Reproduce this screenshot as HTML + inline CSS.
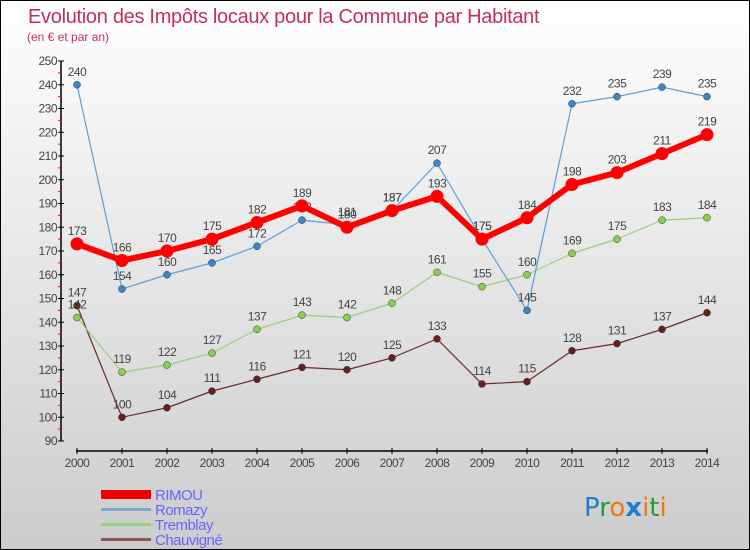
<!DOCTYPE html>
<html><head><meta charset="utf-8"><style>
body{margin:0}
#c{width:750px;height:550px;position:relative;box-sizing:border-box;border:1px solid #000;background:linear-gradient(#fff,#ccc);font-family:"Liberation Sans",sans-serif;overflow:hidden}
</style></head><body>
<div id="c">
<svg id="s" width="750" height="550" style="position:absolute;left:0;top:0" font-family="Liberation Sans, sans-serif">
<text x="27" y="22" font-size="20" fill="#c0325a" letter-spacing="-0.3">Evolution des Impôts locaux pour la Commune par Habitant</text>
<text x="26" y="40" font-size="12" fill="#c0325a">(en € et par an)</text>
<g id="ax"></g><g id="ser"></g>
<g>
<rect x="100" y="489" width="50" height="9" fill="#e00"/>
<text x="154" y="499" font-size="15" fill="#6666ff" letter-spacing="-0.5">RIMOU</text>
<rect x="100" y="507" width="50" height="3" fill="#7fa6c8"/>
<text x="154" y="514" font-size="15" fill="#6666ff" letter-spacing="-0.5">Romazy</text>
<rect x="100" y="522" width="50" height="3" fill="#99d07a"/>
<text x="154" y="529" font-size="15" fill="#6666ff" letter-spacing="-0.5">Tremblay</text>
<rect x="100" y="537" width="50" height="3" fill="#8a5a5a"/>
<text x="154" y="544" font-size="15" fill="#6666ff" letter-spacing="-0.5">Chauvigné</text>
</g>
<text x="583" y="515" font-size="26" font-family="DejaVu Sans"><tspan fill="#1a7fd0">P</tspan><tspan fill="#2a9a3a">r</tspan><tspan fill="#f07a10">o</tspan><tspan fill="#1a7fd0" font-weight="bold">x</tspan><tspan fill="#f07a10">i</tspan><tspan fill="#2a9a3a">t</tspan><tspan fill="#f07a10">i</tspan></text>
</svg>
</div>
<script>
const years=[2000,2001,2002,2003,2004,2005,2006,2007,2008,2009,2010,2011,2012,2013,2014];
const rimou=[173,166,170,175,182,189,180,187,193,175,184,198,203,211,219];
const romazy=[240,154,160,165,172,183,181,187,207,175,145,232,235,239,235];
const tremblay=[142,119,122,127,137,143,142,148,161,155,160,169,175,183,184];
const chauvigne=[147,100,104,111,116,121,120,125,133,114,115,128,131,137,144];
const yTicks=[90,100,110,120,130,140,150,160,170,180,190,200,210,220,230,240,250];
const NS='http://www.w3.org/2000/svg';
const X=i=>76+i*45, Y=v=>440-(v-90)*2.375;
function mk(t,a,p){const e=document.createElementNS(NS,t);for(const k in a)e.setAttribute(k,a[k]);p.appendChild(e);return e;}
const ax=document.getElementById('ax'),ser=document.getElementById('ser');
let l=mk('line',{x1:60,y1:Y(250),x2:60,y2:Y(90),stroke:'#000','stroke-width':1.5},ax);

yTicks.forEach(v=>{const t=mk('line',{x1:57,x2:63,y1:Y(v),y2:Y(v),stroke:'#000'},ax);

if(v<250){const r=mk('line',{x1:57,x2:60,y1:Y(v+5),y2:Y(v+5),stroke:'#f00'},ax);}
const tx=mk('text',{x:56,y:Y(v)+4,'font-size':12,'text-anchor':'end',fill:'#444','letter-spacing':'-0.5'},ax);tx.textContent=v;
});
l=mk('line',{x1:X(0)-1,y1:450,x2:X(14)+1,y2:450,stroke:'#000','stroke-width':1.5},ax);

years.forEach((y,i)=>{const t=mk('line',{x1:X(i),x2:X(i),y1:447,y2:453,stroke:'#000'},ax);

const tx=mk('text',{x:X(i),y:466,'font-size':12,'text-anchor':'middle',fill:'#444','letter-spacing':'-0.5'},ax);tx.textContent=y;
});
function series(name,vals,col,w,r,dot){
const g=mk('g',{},ser);
const p=mk('polyline',{points:vals.map((v,i)=>X(i)+','+Y(v)).join(' '),fill:'none',stroke:col,'stroke-width':w,'stroke-linejoin':'round'},g);

vals.forEach((v,i)=>{const c=mk('circle',{cx:X(i),cy:Y(v),r:r,fill:dot,stroke:col==dot?'none':'#333','stroke-width':0.5},g);

const t=mk('text',{x:X(i),y:Y(v)-9,'font-size':12,'text-anchor':'middle',fill:'#444','letter-spacing':'-0.5'},g);t.textContent=v;
});}
series('chauvigne',chauvigne,'#6b2a2a',1.2,3.5,'#6b1e1e');
series('tremblay',tremblay,'#99d07a',1.2,3.5,'#88d050');
series('romazy',romazy,'#5aa0d8',1.2,3.5,'#3a86c8');
series('rimou',rimou,'#f00',6,6.5,'#f00');
</script>
</body></html>
